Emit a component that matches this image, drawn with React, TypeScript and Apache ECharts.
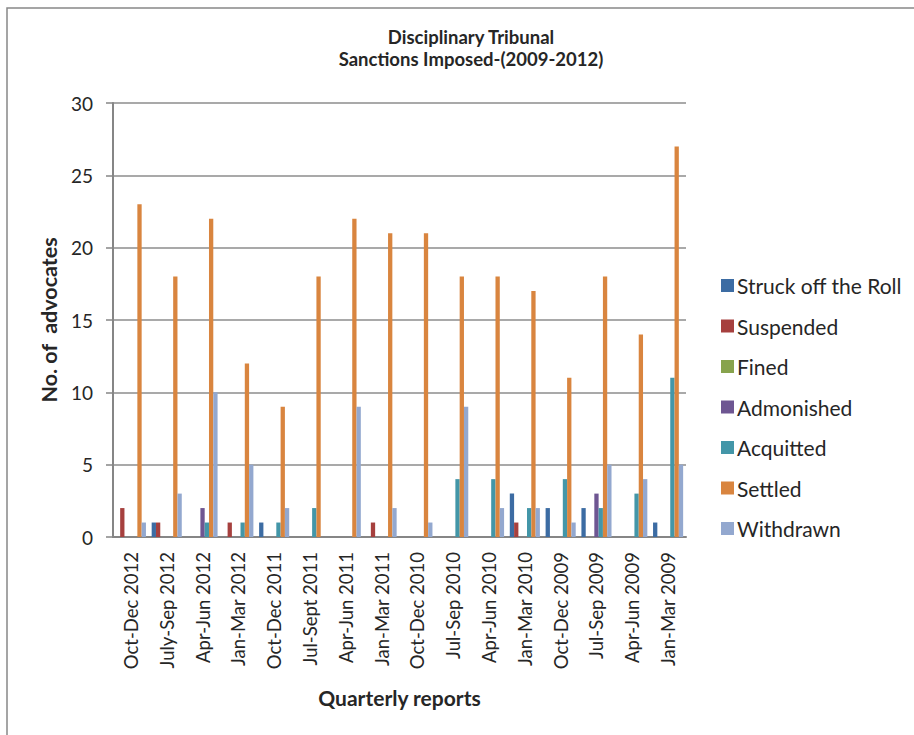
import React, { useEffect, useRef } from "react";
import * as echarts from "echarts";

const categories = [
  "Oct-Dec 2012", "July-Sep 2012", "Apr-Jun 2012", "Jan-Mar 2012",
  "Oct-Dec 2011", "Jul-Sept 2011", "Apr-Jun 2011", "Jan-Mar 2011",
  "Oct-Dec 2010", "Jul-Sep 2010", "Apr-Jun 2010", "Jan-Mar 2010",
  "Oct-Dec 2009", "Jul-Sep 2009", "Apr-Jun 2009", "Jan-Mar 2009",
];
const struckOff = [0, 1, 0, 0, 1, 0, 0, 0, 0, 0, 0, 3, 2, 2, 0, 1];
const suspended = [2, 1, 0, 1, 0, 0, 0, 1, 0, 0, 0, 1, 0, 0, 0, 0];
const fined = [0, 0, 0, 0, 0, 0, 0, 0, 0, 0, 0, 0, 0, 0, 0, 0];
const admonished = [0, 0, 2, 0, 0, 0, 0, 0, 0, 0, 0, 0, 0, 3, 0, 0];
const acquitted = [0, 0, 1, 1, 1, 2, 0, 0, 0, 4, 4, 2, 4, 2, 3, 11];
const settled = [23, 18, 22, 12, 9, 18, 22, 21, 21, 18, 18, 17, 11, 18, 14, 27];
const withdrawn = [1, 3, 10, 5, 2, 0, 9, 2, 1, 9, 2, 2, 1, 5, 4, 5];
const yTicks = [0, 5, 10, 15, 20, 25, 30];

const seriesDefs = [
  { name: "Struck off the Roll", data: struckOff, color: "#3C6CA3" },
  { name: "Suspended", data: suspended, color: "#A6403E" },
  { name: "Fined", data: fined, color: "#87A34D" },
  { name: "Admonished", data: admonished, color: "#6E5692" },
  { name: "Acquitted", data: acquitted, color: "#4396A8" },
  { name: "Settled", data: settled, color: "#D9853F" },
  { name: "Withdrawn", data: withdrawn, color: "#93A8CF" },
];

const FONT = "Lato";

export default function App() {
  const ref = useRef<HTMLDivElement>(null);
  useEffect(() => {
    document.body.style.margin = "0";
    const chart = echarts.init(ref.current!, null, { renderer: "svg" });
    chart.setOption({
      animation: false,
      backgroundColor: "#ffffff",
      textStyle: { fontFamily: FONT },
      title: {
        text: "Disciplinary Tribunal\nSanctions Imposed-(2009-2012)",
        left: 466,
        textAlign: "center",
        top: 21,
        textStyle: {
          fontFamily: FONT,
          fontWeight: "bold",
          fontSize: 18.5,
          lineHeight: 22,
          color: "#262626",
        },
      },
      graphic: [
        {
          type: "rect",
          shape: { x: 7, y: 8, width: 1000, height: 1000 },
          style: { fill: "none", stroke: "#888888", lineWidth: 1.5 },
          silent: true,
        },
      ],
      legend: {
        orient: "vertical",
        left: 716,
        top: 270,
        itemWidth: 13,
        itemHeight: 13,
        itemGap: 19.5,
        icon: "rect",
        textStyle: { fontFamily: FONT, fontSize: 21, color: "#262626", padding: [0, 0, 0, -2] },
        data: seriesDefs.map((s) => s.name),
      },
      grid: { left: 113, right: 228, top: 103, bottom: 198, containLabel: false },
      xAxis: {
        type: "category",
        data: categories,
        name: "Quarterly reports",
        nameLocation: "middle",
        nameGap: 150,
        nameTextStyle: { fontFamily: FONT, fontWeight: "bold", fontSize: 21, color: "#262626" },
        axisLine: { lineStyle: { color: "#868686", width: 2 } },
        axisTick: { show: false },
        axisLabel: {
          rotate: 90,
          interval: 0,
          margin: 15,
          fontFamily: FONT,
          fontSize: 18.5,
          color: "#262626",
        },
      },
      yAxis: {
        type: "value",
        min: 0,
        max: 30,
        interval: 5,
        name: "No. of  advocates",
        nameLocation: "middle",
        nameGap: 51,
        nameTextStyle: { fontFamily: FONT, fontWeight: "bold", fontSize: 21.5, color: "#262626" },
        axisLine: { show: true, lineStyle: { color: "#868686", width: 2 } },
        axisTick: { show: true, length: 7, lineStyle: { color: "#868686", width: 1.5 } },
        axisLabel: {
          margin: 20,
          fontFamily: FONT,
          fontSize: 19,
          color: "#262626",
          customValues: yTicks,
        },
        splitLine: { lineStyle: { color: "#8C8C8C", width: 1.5 } },
      },
      series: seriesDefs.map((s) => ({
        name: s.name,
        type: "bar",
        data: s.data,
        barWidth: 4.3,
        barGap: "0%",
        itemStyle: { color: s.color },
      })),
    });
    return () => chart.dispose();
  }, []);
  return <div ref={ref} style={{ width: 914, height: 735 }} />;
}
